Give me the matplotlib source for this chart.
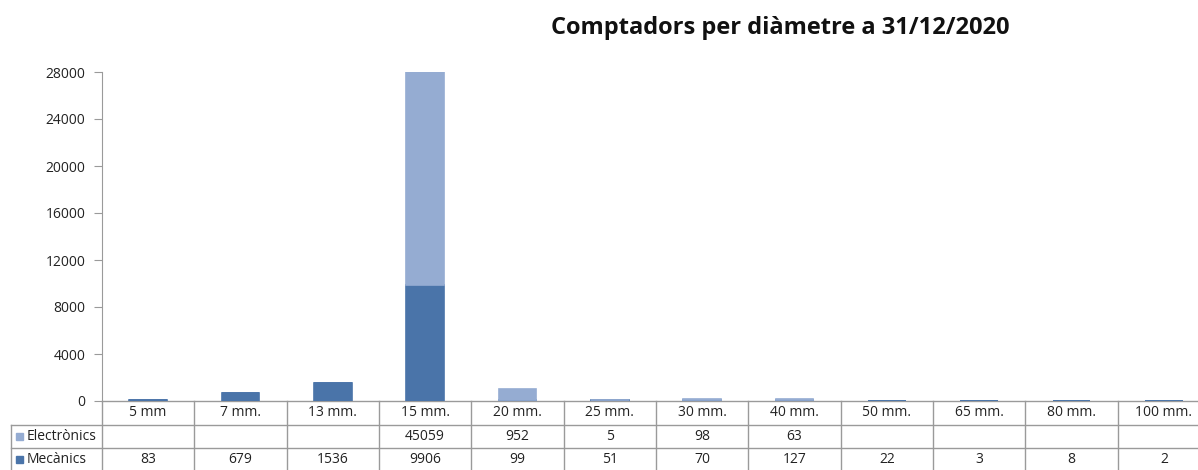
import matplotlib.pyplot as plt
import matplotlib.transforms as mtransforms

# data
diameters = ["5 mm", "7 mm.", "13 mm.", "15 mm.", "20 mm.", "25 mm.",
             "30 mm.", "40 mm.", "50 mm.", "65 mm.", "80 mm.", "100 mm."]
electronics = [None, None, None, 45059, 952, 5, 98, 63, None, None, None, None]
mechanics = [83, 679, 1536, 9906, 99, 51, 70, 127, 22, 3, 8, 2]
yticks = [0, 4000, 8000, 12000, 16000, 20000, 24000, 28000]

dark = "#4A74A9"
light = "#95ACD2"
grey_line = "#9A9A9A"
txt = "#222222"

plt.rcParams['font.family'] = ['Open Sans', 'DejaVu Sans']

fig = plt.figure(figsize=(11.98, 4.70), dpi=100)
W, H = 1198, 470
# the table runs a little past the right edge of the picture
x0, x1, y0, y1 = 102, 1210, 401, 72
ax = fig.add_axes([x0 / W, 1 - y0 / H, (x1 - x0) / W, (y0 - y1) / H])

xs = list(range(len(diameters)))
elec_vals = [v if v is not None else 0 for v in electronics]
# thin edge so tiny values still show as a line, like the original
ax.bar(xs, mechanics, width=0.41, color=dark, edgecolor=dark, lw=1.2, zorder=4)
ax.bar(xs, elec_vals, width=0.41, bottom=mechanics, color=light,
       edgecolor=[light if v else dark for v in elec_vals], lw=1.2, zorder=4)

ax.set_xlim(-0.5, len(diameters) - 0.5)
ax.set_ylim(0, 28000)
ax.set_yticks(yticks)
ax.set_yticklabels([str(t) for t in yticks], fontsize=10, color=txt)
ax.tick_params(axis="y", length=6, color=grey_line, pad=6)
ax.set_xticks([])

for s in ["top", "right", "bottom"]:
    ax.spines[s].set_visible(False)
ax.spines["left"].set_color(grey_line)

# table below the axes: x in data units, y in axes fraction
trans = mtransforms.blended_transform_factory(ax.transData, ax.transAxes)
row_h = 23.5 / (y0 - y1)
lbl_left = -0.5 - (x0 - 11) / ((x1 - x0) / len(diameters))

def hline(y, xa, xb):
    ax.plot([xa, xb], [y, y], color=grey_line, lw=1, transform=trans,
            clip_on=False, zorder=1)

def vline(x, ya, yb):
    ax.plot([x, x], [ya, yb], color=grey_line, lw=1, transform=trans,
            clip_on=False, zorder=1)

hline(0, -0.5, len(diameters) - 0.5)
hline(-row_h, lbl_left, len(diameters) - 0.5)
hline(-2 * row_h, lbl_left, len(diameters) - 0.5)
for i in range(len(diameters) + 1):
    vline(i - 0.5, 0, -3 * row_h)
vline(lbl_left, -row_h, -3 * row_h)

for i, d in enumerate(diameters):
    ax.text(i, -0.5 * row_h, d, ha="center", va="center", fontsize=10,
            color=txt, transform=trans)
    if electronics[i] is not None:
        ax.text(i, -1.5 * row_h, str(electronics[i]), ha="center", va="center",
                fontsize=10, color=txt, transform=trans)
    ax.text(i, -2.5 * row_h, str(mechanics[i]), ha="center", va="center",
            fontsize=10, color=txt, transform=trans)

# legend keys in the label column
for k, (name, col) in enumerate([("Electrònics", light), ("Mecànics", dark)]):
    yy = 1 - (y0 + (k + 1.5) * 23.5) / H
    fig.patches.append(plt.Rectangle((16 / W, yy - 3.5 / H), 7 / W, 7 / H,
                                     color=col, transform=fig.transFigure))
    fig.text(27 / W, yy, name, ha="left", va="center", fontsize=10, color=txt)

fig.text(780 / W, 1 - 28 / H, "Comptadors per diàmetre a 31/12/2020",
         ha="center", va="center", fontsize=17, fontweight="bold", color="#111111")

fig.savefig("out.png", dpi=100)
